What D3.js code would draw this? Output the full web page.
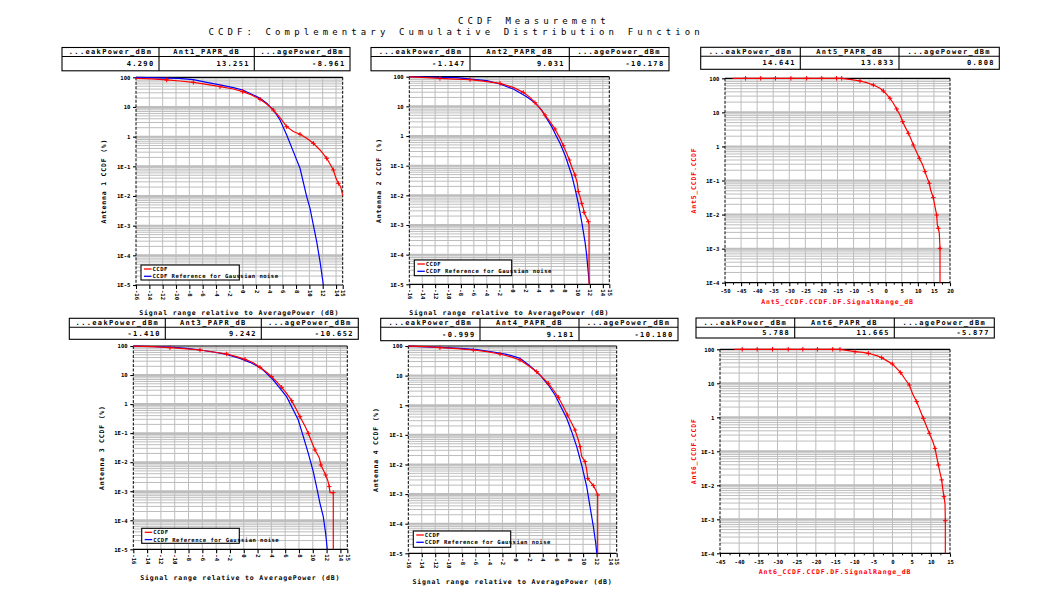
<!DOCTYPE html>
<html><head><meta charset="utf-8">
<script src="https://cdn.jsdelivr.net/npm/d3@7"></script>
<style>
body{margin:0;background:#fff}
svg{display:block}
text{font-family:"DejaVu Sans Mono",monospace;}
</style>
</head><body>
<svg id="c" width="1055" height="616"></svg>
<script>
// ---------------- DATA ----------------
const titleLine1 = "CCDF Measurement";
const titleLine2 = "CCDF: Complementary Cumulative Distribution Function";

const tableHeaders1 = ["...eakPower_dBm", "Ant1_PAPR_dB", "...agePower_dBm"];
const tableValues1  = ["4.290", "13.251", "-8.961"];
const tableHeaders2 = ["...eakPower_dBm", "Ant2_PAPR_dB", "...agePower_dBm"];
const tableValues2  = ["-1.147", "9.031", "-10.178"];
const tableHeaders5 = ["...eakPower_dBm", "Ant5_PAPR_dB", "...agePower_dBm"];
const tableValues5  = ["14.641", "13.833", "0.808"];
const tableHeaders3 = ["...eakPower_dBm", "Ant3_PAPR_dB", "...agePower_dBm"];
const tableValues3  = ["-1.410", "9.242", "-10.652"];
const tableHeaders4 = ["...eakPower_dBm", "Ant4_PAPR_dB", "...agePower_dBm"];
const tableValues4  = ["-0.999", "9.181", "-10.180"];
const tableHeaders6 = ["...eakPower_dBm", "Ant6_PAPR_dB", "...agePower_dBm"];
const tableValues6  = ["5.788", "11.665", "-5.877"];

const legendLabels = ["CCDF", "CCDF Reference for Gaussian noise"];
const xTitleText = "Signal range relative to AveragePower (dB)";

const rangeTicks = [-16,-14,-12,-10,-8,-6,-4,-2,0,2,4,6,8,10,12,14,15];
const ant5Ticks = [-50,-45,-40,-35,-30,-25,-20,-15,-10,-5,0,5,10,15,20];
const ant6Ticks = [-45,-40,-35,-30,-25,-20,-15,-10,-5,0,5,10,15];
const logLabels5 = ["100","10","1","1E-1","1E-2","1E-3","1E-4","1E-5"];
const logLabels4 = ["100","10","1","1E-1","1E-2","1E-3","1E-4"];

// Antenna 1
const ant1_dB  = [-16,-13.65,-11.4,-9.4,-7.4,-5.4,-3.4,-1.4,0,1.35,2.6,3.6,4.6,5.6,6.6,7.6,8.6,9.6,10.6,11.6,12.6,13.1,13.6,14.0,14.35,14.7,15.0];
const ant1_pct = [92.5,87.9,81.3,75.2,67.8,58.1,48.4,40.4,32.9,25.4,18.1,12.6,7.9,4.37,2.17,1.48,1.2,0.88,0.596,0.356,0.186,0.12,0.0752,0.0394,0.0267,0.0206,0.0103];
const ant1Ref_dB  = [-16,-9.65,-7.4,-5.4,-3.4,-1.4,0,1.6,2.6,3.6,4.6,5.6,6.6,7.6,8.6,9.6,10.1,10.6,11.1,11.6,12.1];
const ant1Ref_pct = [99.5,92.5,83.4,67.8,55.2,44.9,37.4,25.4,19.6,13.3,7.9,3.65,1.14,0.312,0.0857,0.0095,0.00384,0.00105,0.00029,0.000061,0.00001];

// Antenna 2
const ant2_dB  = [-16,-14.09,-11.25,-8.92,-6.59,-4.53,-1.94,0.12,1.67,2.71,3.48,4.26,5.03,5.81,6.58,7.36,7.88,8.39,8.81,9.17,9.68,10.05,10.20,10.46,10.72,10.98,11.08,11.39,11.75,11.86,11.86];
const ant2_pct = [99,95,87.9,83.4,79.3,71.4,59.6,43.7,29.6,20.1,13.3,8.57,5.1,3.04,1.72,0.834,0.472,0.261,0.155,0.0925,0.0484,0.0254,0.0133,0.00902,0.00537,0.00365,0.00267,0.00191,0.00129,0.001,0.00001];
const ant2Ref_dB  = [-16,-8.66,-6.08,-4.01,-1.94,0.12,2.19,3.48,4.52,5.29,6.07,6.84,7.36,8.13,8.65,9.17,9.68,10.20,10.72,11.23,11.49,11.75,11.91];
const ant2Ref_pct = [99.5,92.5,81.3,73.3,56.6,38.4,21.2,13.3,7.52,3.94,2.07,0.95,0.566,0.229,0.105,0.0484,0.0172,0.00537,0.00129,0.000274,0.000098,0.0000235,0.00001];

// Antenna 3
const ant3_dB  = [-16,-13.1,-10.69,-8.76,-6.34,-4.41,-2.48,-1.03,0.18,1.38,2.35,3.31,4.04,4.76,5.49,6.21,6.94,7.66,8.14,8.87,9.35,9.83,10.32,10.94,11.18,11.52,11.86,12.15,12.39,12.49,12.97,12.97];
const ant3_pct = [99.5,94.8,87.6,81,72.8,62.1,53.1,43,34.8,26.7,18.4,12.4,8.8,5.92,3.78,2.35,1.31,0.626,0.369,0.176,0.0984,0.0508,0.0263,0.0143,0.008,0.00538,0.00362,0.00244,0.00144,0.00089,0.00089,0.00001];
const ant3Ref_dB  = [-16,-10.69,-8.27,-6.34,-4.41,-2.48,-0.55,0.9,2.35,3.31,4.28,5.25,6.21,7.18,7.90,8.63,9.35,10.07,10.65,11.04,11.52,11.86,12.10];
const ant3Ref_pct = [99.5,92.4,83.2,72.8,62.1,51.6,37.6,27.4,18.4,11.5,6.75,3.49,1.8,0.626,0.283,0.0756,0.0202,0.00472,0.0011,0.000383,0.000133,0.0000355,0.00001];

// Antenna 4
const ant4_dB  = [-16,-13.27,-11.29,-8.81,-6.33,-4.34,-2.36,-0.87,0.62,2.10,3.10,4.09,4.83,5.58,6.32,7.07,7.66,8.31,8.80,9.30,9.55,9.79,10.29,10.54,10.69,11.03,11.53,11.88,12.17,12.17];
const ant4_pct = [99.5,94.9,87.8,81.3,73.3,64.4,53.7,43.6,33.7,20,13.6,8.09,5.49,3.27,1.85,0.895,0.468,0.245,0.146,0.067,0.0399,0.0184,0.0125,0.00652,0.0034,0.00263,0.00193,0.00138,0.00093,0.00001];
const ant4Ref_dB  = [-16,-11.29,-8.31,-5.83,-3.35,-1.37,0.62,2.10,3.59,4.83,5.83,6.57,7.56,8.31,9.05,9.79,10.54,11.03,11.53,11.88,12.03];
const ant4Ref_pct = [99.5,90.1,83.4,75.2,62.7,52.3,38.4,21.1,10.5,4.82,2.22,1.02,0.361,0.128,0.0399,0.0096,0.00178,0.000377,0.0000796,0.0000218,0.00001];

// Antenna 5
const ant5_dB  = [-47.6,-43.6,-38.9,-34.3,-29.5,-24.6,-19.9,-15.3,-13.7,-10.6,-8.0,-5.93,-3.85,-1.78,-0.74,0.30,1.33,2.37,3.41,4.44,5.27,6.0,7.04,7.76,8.59,9.63,10.46,11.5,12.22,12.74,13.57,13.98,14.81,15.33,15.85,16.06,16.37,16.68,16.89,16.89];
const ant5_pct = [100,100,100,100,100,100,100,100,99.9,91.4,83.5,74.6,63.7,50.8,42.5,33.9,25.9,18.5,12.6,8.4,5.35,3.81,2.43,1.73,1.1,0.673,0.449,0.286,0.182,0.13,0.0828,0.0527,0.0314,0.0171,0.00973,0.00495,0.00395,0.00282,0.00102,0.0001];

// Antenna 6
const ant6_dB  = [-41.3,-39.2,-35.3,-31.3,-27.2,-23.4,-19.6,-15.6,-13.7,-11.52,-9.78,-7.78,-6.30,-4.13,-2.83,-1.52,-0.04,1.09,2.13,3.26,4.39,5.26,6.30,7.17,8.04,8.74,9.61,10.48,11.09,11.52,11.96,12.39,12.83,13.09,13.43,13.70,13.78,13.78];
const ant6_pct = [100,100,100,100,100,100,100,100,99.9,91.4,85.3,81.6,76.3,65.1,56.9,46.4,37.1,27.6,20.6,13.4,8.93,4.86,2.89,1.64,0.935,0.596,0.338,0.201,0.122,0.0697,0.0396,0.0236,0.0144,0.00816,0.00464,0.00283,0.00091,0.0001];

// ---------------- DRAWING ----------------
const zip = (a, b) => a.map((v, i) => [v, b[i]]);
const svg = d3.select("#c");
const FONT = "'DejaVu Sans Mono', monospace";
const GRID = "#bdbdbd";

svg.append("text").attr("x", 458).attr("y", 24).attr("font-size", 9)
  .attr("letter-spacing", 4.06).text(titleLine1);
svg.append("text").attr("x", 208.4).attr("y", 35).attr("font-size", 9)
  .attr("letter-spacing", 4.11).text(titleLine2);

const panels = [
  {plot:{l:136,r:342.7,t:77.3,b:285}, xd:[-16,15], ymin:1e-5, xt:rangeTicks, rot:true, logLabels:logLabels5,
   table:{l:62,r:350,t:47.5,m:56.5,b:70.8,d1:159,d2:254.3}, headers:tableHeaders1, values:tableValues1,
   yTitle:{x:104,text:"Antenna 1 CCDF (%)",color:"#000"}, xTitle:{y:315.3,text:xTitleText,color:"#000"},
   legend:{l:141,t:265,r:239.3,b:280}, red:zip(ant1_dB,ant1_pct), blue:zip(ant1Ref_dB,ant1Ref_pct)},
  {plot:{l:409.3,r:609.3,t:76.7,b:284.3}, xd:[-16,15], ymin:1e-5, xt:rangeTicks, rot:true, logLabels:logLabels5,
   table:{l:371,r:669,t:47.5,m:56.5,b:70.8,d1:470,d2:569.3}, headers:tableHeaders2, values:tableValues2,
   yTitle:{x:378.3,text:"Antenna 2 CCDF (%)",color:"#000"}, xTitle:{y:315.3,text:xTitleText,color:"#000"},
   legend:{l:414.3,t:260,r:511.7,b:275.7}, red:zip(ant2_dB,ant2_pct), blue:zip(ant2Ref_dB,ant2Ref_pct)},
  {plot:{l:725,r:950,t:78.3,b:282.7}, xd:[-50,20], ymin:1e-4, xt:ant5Ticks, rot:false, logLabels:logLabels4,
   table:{l:700.7,r:999.3,t:47.3,m:56.3,b:69.3,d1:800.3,d2:899}, headers:tableHeaders5, values:tableValues5,
   yTitle:{x:693.3,text:"Ant5_CCDF.CCDF",color:"#f00"}, xTitle:{y:304,text:"Ant5_CCDF.CCDF.DF.SignalRange_dB",color:"#f00"},
   legend:null, red:zip(ant5_dB,ant5_pct), blue:null},
  {plot:{l:133.3,r:347.3,t:346,b:549.3}, xd:[-16,15], ymin:1e-5, xt:rangeTicks, rot:true, logLabels:logLabels5,
   table:{l:69.3,r:358.3,t:318.3,m:327.3,b:339.3,d1:165.3,d2:261.3}, headers:tableHeaders3, values:tableValues3,
   yTitle:{x:101.7,text:"Antenna 3 CCDF (%)",color:"#000"}, xTitle:{y:580,text:xTitleText,color:"#000"},
   legend:{l:141.7,t:528.3,r:239.3,b:543.3}, red:zip(ant3_dB,ant3_pct), blue:zip(ant3Ref_dB,ant3Ref_pct)},
  {plot:{l:408.3,r:616.7,t:346,b:553.3}, xd:[-16,15], ymin:1e-5, xt:rangeTicks, rot:true, logLabels:logLabels5,
   table:{l:380.7,r:678,t:318.3,m:327.3,b:340.7,d1:480,d2:579}, headers:tableHeaders4, values:tableValues4,
   yTitle:{x:376,text:"Antenna 4 CCDF (%)",color:"#000"}, xTitle:{y:584,text:xTitleText,color:"#000"},
   legend:{l:413.3,t:531,r:510.7,b:547.3}, red:zip(ant4_dB,ant4_pct), blue:zip(ant4Ref_dB,ant4Ref_pct)},
  {plot:{l:720,r:950,t:349.3,b:553.3}, xd:[-45,15], ymin:1e-4, xt:ant6Ticks, rot:false, logLabels:logLabels4,
   table:{l:696,r:994.3,t:318,m:327.3,b:338,d1:794.7,d2:894.3}, headers:tableHeaders6, values:tableValues6,
   yTitle:{x:693.3,text:"Ant6_CCDF.CCDF",color:"#f00"}, xTitle:{y:574,text:"Ant6_CCDF.CCDF.DF.SignalRange_dB",color:"#f00"},
   legend:null, red:zip(ant6_dB,ant6_pct), blue:null}
];

const fmt = d => (d < 0 ? "-" + Math.abs(d) : String(d));

panels.forEach((p, pi) => {
  const g = svg.append("g");
  const P = p.plot;
  const x = d3.scaleLinear().domain(p.xd).range([P.l, P.r]);
  const y = d3.scaleLog().domain([p.ymin, 100]).range([P.b, P.t]);

  // table
  const T = p.table;
  const tg = g.append("g");
  tg.append("rect").attr("x", T.l).attr("y", T.t).attr("width", T.r - T.l).attr("height", T.b - T.t)
    .attr("fill", "#fff").attr("stroke", "#000").attr("stroke-width", 1.1);
  tg.append("line").attr("x1", T.l).attr("x2", T.r).attr("y1", T.m).attr("y2", T.m).attr("stroke", "#000").attr("stroke-width", 1.1);
  [T.d1, T.d2].forEach(dx => tg.append("line").attr("x1", dx).attr("x2", dx).attr("y1", T.t).attr("y2", T.b).attr("stroke", "#000").attr("stroke-width", 1.1));
  const cols = [[T.l, T.d1], [T.d1, T.d2], [T.d2, T.r]];
  cols.forEach((c, i) => {
    tg.append("text").attr("x", (c[0] + c[1]) / 2).attr("y", T.t + (T.m - T.t) / 2 + 2.4)
      .attr("text-anchor", "middle").attr("font-size", 7).attr("font-weight", "bold")
      .attr("letter-spacing", 1.35).text(p.headers[i]);
    tg.append("text").attr("x", c[1] - 4.5).attr("y", T.m + (T.b - T.m) / 2 + 2.6)
      .attr("text-anchor", "end").attr("font-size", 7).attr("font-weight", "bold")
      .attr("letter-spacing", 1.35).text(p.values[i]);
  });

  // grid
  const gg = g.append("g");
  const vt = p.xt.filter(v => v > p.xd[0] && v < p.xd[1]);
  gg.selectAll("line.v").data(vt).join("line")
    .attr("x1", d => x(d)).attr("x2", d => x(d)).attr("y1", P.t).attr("y2", P.b)
    .attr("stroke", GRID).attr("stroke-width", 1);
  const minor = [];
  const decades = [];
  for (let e = Math.round(Math.log10(p.ymin)); e <= 2; e++) {
    decades.push(Math.pow(10, e));
    if (e < 2) for (let k = 2; k <= 9; k++) minor.push(k * Math.pow(10, e));
  }
  gg.selectAll("line.h").data(minor).join("line")
    .attr("x1", P.l).attr("x2", P.r).attr("y1", d => y(d)).attr("y2", d => y(d))
    .attr("stroke", GRID).attr("stroke-width", 1);
  gg.selectAll("line.d").data(decades.filter(d => d < 100 && d > p.ymin)).join("line")
    .attr("x1", P.l).attr("x2", P.r).attr("y1", d => y(d)).attr("y2", d => y(d))
    .attr("stroke", GRID).attr("stroke-width", 2);

  // frame
  g.append("line").attr("x1", P.l).attr("x2", P.r).attr("y1", P.t).attr("y2", P.t).attr("stroke", "#000").attr("stroke-width", 1.2);
  g.append("line").attr("x1", P.l).attr("x2", P.r).attr("y1", P.b).attr("y2", P.b).attr("stroke", "#000").attr("stroke-width", 1.2);
  [P.l, P.r].forEach(xx => g.append("line").attr("x1", xx).attr("x2", xx).attr("y1", P.t).attr("y2", P.b)
    .attr("stroke", "#000").attr("stroke-width", 1).attr("stroke-dasharray", "3,1.5"));

  // x axis
  const ax = g.append("g").attr("transform", `translate(0,${P.b})`)
    .call(d3.axisBottom(x).tickValues(p.xt).tickSize(p.rot ? 4 : 3.5).tickFormat(fmt));
  ax.select(".domain").remove();
  ax.selectAll("line").attr("stroke", "#000").attr("stroke-width", 1.1);
  const xtx = ax.selectAll("text").attr("font-family", FONT).attr("font-size", 5.6).attr("font-weight", "bold").attr("fill", "#000");
  if (p.rot) {
    xtx.attr("transform", "rotate(90)").attr("x", 5).attr("y", 0).attr("dy", "0.35em").attr("text-anchor", "start");
  } else {
    xtx.attr("y", 6.5).attr("dy", "0.71em");
    const mids = p.xt.slice(0, -1).map((v, i) => (v + p.xt[i + 1]) / 2);
    const mx = g.append("g").attr("transform", `translate(0,${P.b})`)
      .call(d3.axisBottom(x).tickValues(mids).tickSize(2).tickFormat(""));
    mx.select(".domain").remove();
    mx.selectAll("line").attr("stroke", "#000");
  }

  // y axis
  const ay = g.append("g").attr("transform", `translate(${P.l},0)`)
    .call(d3.axisLeft(y).tickValues(decades.slice().reverse()).tickSize(3).tickPadding(2.6)
      .tickFormat((d, i) => p.logLabels[i]));
  ay.select(".domain").remove();
  ay.selectAll("line").attr("stroke", "#000").attr("stroke-width", 1.1);
  ay.selectAll("text").attr("font-family", FONT).attr("font-size", 5.6).attr("font-weight", "bold").attr("fill", "#000");

  // titles
  g.append("text").attr("x", (P.l + P.r) / 2).attr("y", p.xTitle.y).attr("text-anchor", "middle")
    .attr("font-size", 6.5).attr("font-weight", "bold").attr("letter-spacing", 0.85)
    .attr("fill", p.xTitle.color).text(p.xTitle.text);
  g.append("text").attr("transform", `translate(${p.yTitle.x + 2.3},${(P.t + P.b) / 2}) rotate(-90)`)
    .attr("text-anchor", "middle").attr("font-size", 6.5).attr("font-weight", "bold").attr("letter-spacing", 0.8)
    .attr("fill", p.yTitle.color).text(p.yTitle.text);

  // curves
  const clipId = "clip" + pi;
  g.append("clipPath").attr("id", clipId).append("rect")
    .attr("x", P.l - 1).attr("y", P.t - 2).attr("width", P.r - P.l + 2).attr("height", P.b - P.t + 3);
  const line = d3.line().x(d => x(d[0])).y(d => y(d[1]));
  const cg = g.append("g").attr("clip-path", `url(#${clipId})`);
  if (p.blue) cg.append("path").datum(p.blue).attr("d", line).attr("fill", "none").attr("stroke", "#0000ff").attr("stroke-width", 1.2);
  cg.append("path").datum(p.red).attr("d", line).attr("fill", "none").attr("stroke", "#ff0000").attr("stroke-width", 1.2);
  const marks = p.red.filter((d, i) => i > 0 && i < p.red.length - 1 && (d[1] >= 99.9 || i % 2 === 0));
  g.selectAll("path.mk").data(marks).join("path")
    .attr("transform", d => `translate(${x(d[0])},${y(d[1])})`)
    .attr("d", "M-2.3,0H2.3M0,-2.3V2.3").attr("stroke", "#ff0000").attr("stroke-width", 1);

  // legend
  if (p.legend) {
    const L = p.legend;
    const lg = g.append("g");
    lg.append("rect").attr("x", L.l).attr("y", L.t).attr("width", L.r - L.l).attr("height", L.b - L.t)
      .attr("fill", "#fff").attr("stroke", "#000").attr("stroke-width", 1.1);
    const rows = [[legendLabels[0], "#ff0000"], [legendLabels[1], "#0000ff"]];
    rows.forEach((r, i) => {
      const yy = L.t + 4 + i * 7.3;
      lg.append("line").attr("x1", L.l + 3).attr("x2", L.l + 10.5).attr("y1", yy).attr("y2", yy)
        .attr("stroke", r[1]).attr("stroke-width", 1.3);
      lg.append("text").attr("x", L.l + 11.5).attr("y", yy + 2).attr("font-size", 5.6).attr("font-weight", "bold")
        .attr("letter-spacing", 0.45).text(r[0]);
    });
  }
});
</script>
</body></html>
